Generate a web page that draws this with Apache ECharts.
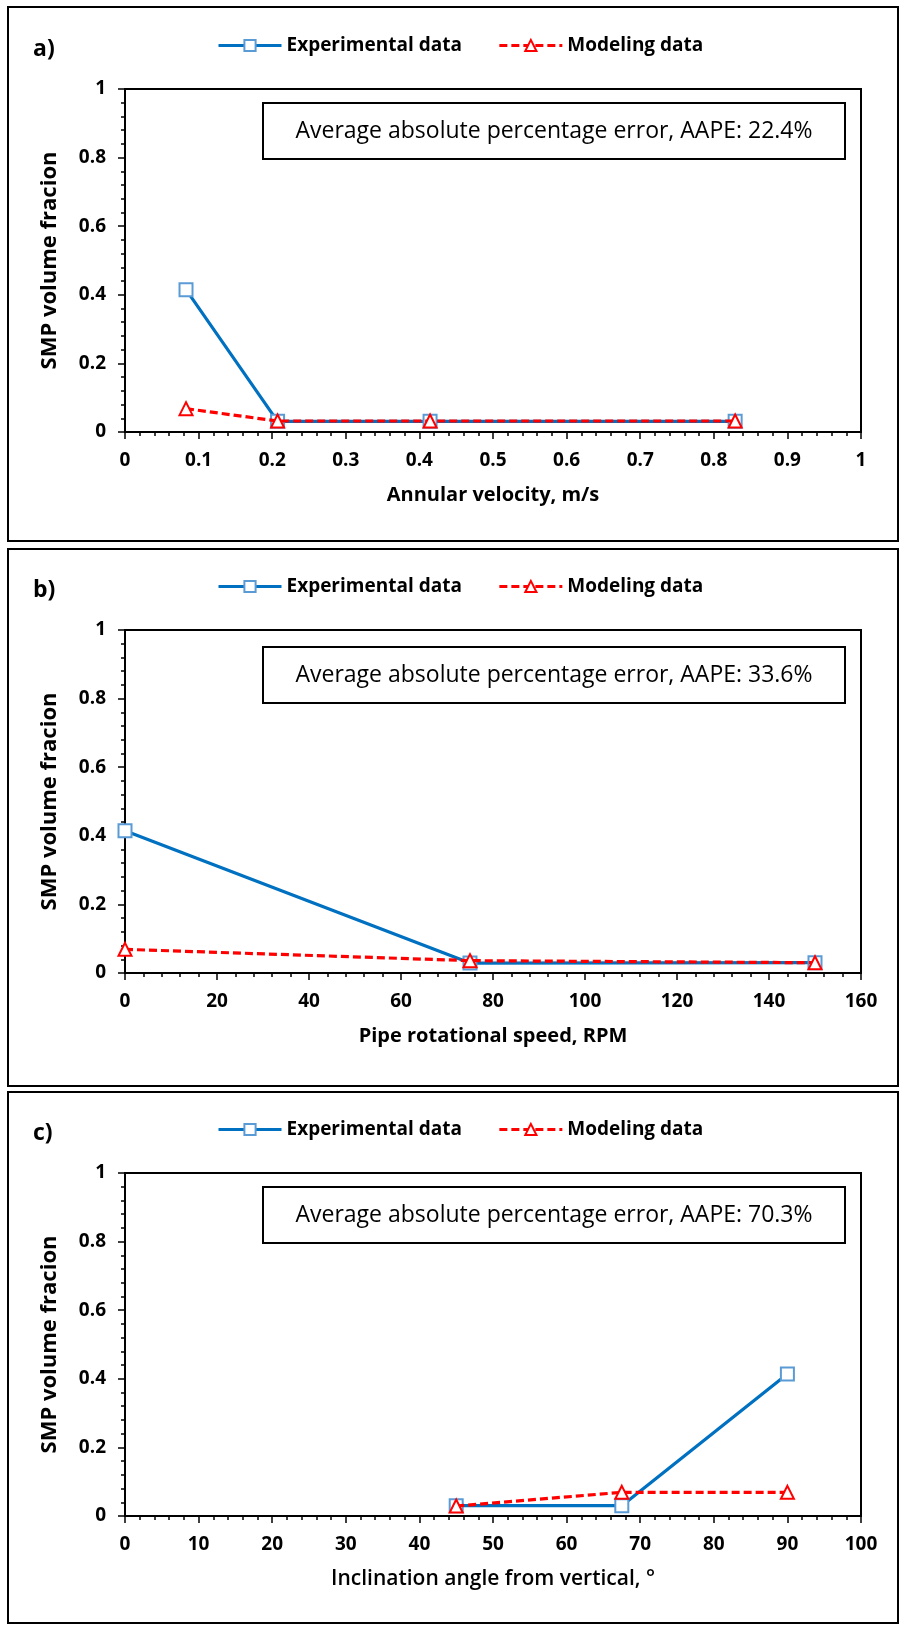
<!DOCTYPE html>
<html>
<head>
<meta charset="utf-8">
<script src="https://cdn.jsdelivr.net/npm/echarts@6/dist/echarts.min.js"></script>
<style>
  html, body { margin: 0; padding: 0; background: #ffffff; }
  #chart { width: 904px; height: 1625px; }
</style>
</head>
<body>
<div id="chart"></div>
<script>
// a) effect of annular velocity
const velocity = [0.0829, 0.2073, 0.4145, 0.829];
const velocityExp = [0.415, 0.031, 0.031, 0.031];
const velocityModel = [0.068, 0.032, 0.032, 0.032];

// b) effect of pipe rotation
const rpm = [0, 75, 150];
const rpmExp = [0.415, 0.029, 0.030];
const rpmModel = [0.069, 0.036, 0.030];

// c) effect of inclination
const angle = [45, 67.5, 90];
const angleExp = [0.030, 0.030, 0.414];
const angleModel = [0.029, 0.069, 0.069];

const panelTags = ['a)', 'b)', 'c)'];
const aapeLabels = [
  'Average absolute percentage error, AAPE: 22.4%',
  'Average absolute percentage error, AAPE: 33.6%',
  'Average absolute percentage error, AAPE: 70.3%'
];
const xTitles = ['Annular velocity, m/s', 'Pipe rotational speed, RPM', 'Inclination angle from vertical, \u00B0'];
const xMax = [1, 160, 100];
const xStep = [0.1, 20, 10];
const yTitle = 'SMP volume fracion';
const seriesNames = ['Experimental data', 'Modeling data'];

const panels = [
  { x: velocity, exp: velocityExp, model: velocityModel },
  { x: rpm, exp: rpmExp, model: rpmModel },
  { x: angle, exp: angleExp, model: angleModel }
];

// layout
const gridTops = [89, 630, 1173];
const gridHeight = 343;
const boxes = [[7, 541], [549, 1086], [1092, 1623]];
const font = 'Open Sans';

const grid = gridTops.map(top => ({
  left: 125, right: 43, top: top, height: gridHeight,
  show: true, borderColor: '#000', borderWidth: 2, backgroundColor: 'transparent'
}));

const tickLine = { color: '#000', width: 1.5 };

const xAxis = panels.map((p, i) => ({
  type: 'value', gridIndex: i, min: 0, max: xMax[i], interval: xStep[i],
  name: xTitles[i], nameLocation: 'middle', nameGap: 53,
  nameTextStyle: {
    fontFamily: font, fontWeight: i === 2 ? 600 : 'bold',
    fontSize: i === 2 ? 21 : 20, color: '#000'
  },
  axisLine: { show: true, onZero: false, lineStyle: { color: '#000', width: 2 } },
  axisTick: { show: true, inside: false, length: 7, lineStyle: tickLine },
  minorTick: { show: true, splitNumber: 5, length: 4, lineStyle: tickLine },
  splitLine: { show: false },
  axisLabel: { margin: 19, color: '#000', fontFamily: font, fontWeight: 'bold', fontSize: 19, showMaxLabel: true, showMinLabel: true }
}));

const yAxis = panels.map((p, i) => ({
  type: 'value', gridIndex: i, min: 0, max: 1, interval: 0.2,
  name: yTitle, nameLocation: 'middle', nameGap: 64, nameRotate: 90,
  nameTextStyle: { fontFamily: font, fontWeight: 'bold', fontSize: 22, color: '#000' },
  axisLine: { show: true, onZero: false, lineStyle: { color: '#000', width: 2 } },
  axisTick: { show: true, inside: false, length: 7, lineStyle: tickLine },
  minorTick: { show: true, splitNumber: 5, length: 4, lineStyle: tickLine },
  splitLine: { show: false },
  axisLabel: { margin: 19, color: '#000', fontFamily: font, fontWeight: 'bold', fontSize: 19 }
}));

const legend = gridTops.map(top => ({
  left: 212, top: top - 58, itemWidth: 63, itemHeight: 14, itemGap: 36,
  data: seriesNames,
  lineStyle: { width: 3 },
  textStyle: { fontFamily: font, fontWeight: 'bold', fontSize: 19, color: '#000' }
}));

const series = [];
panels.forEach((p, i) => {
  series.push({
    type: 'line', name: seriesNames[0], xAxisIndex: i, yAxisIndex: i,
    data: p.x.map((v, k) => [v, p.exp[k]]),
    symbol: 'rect', symbolSize: 13, showAllSymbol: true,
    lineStyle: { color: '#0070C0', width: 3.2 },
    itemStyle: { color: '#ffffff', borderColor: '#5B9BD5', borderWidth: 2 },
    z: 3
  });
  series.push({
    type: 'line', name: seriesNames[1], xAxisIndex: i, yAxisIndex: i,
    data: p.x.map((v, k) => [v, p.model[k]]),
    symbol: 'triangle', symbolSize: 13, showAllSymbol: true,
    lineStyle: { color: '#FF0000', width: 3.2, type: [8, 4] },
    itemStyle: { color: '#ffffff', borderColor: '#FF0000', borderWidth: 2 },
    z: 4
  });
});

const aapeTop = [103, 647, 1187];
const graphic = [];
boxes.forEach(([y0, y1], i) => {
  graphic.push({
    type: 'rect', silent: true, z: 0,
    shape: { x: 8, y: y0, width: 890, height: y1 - y0 },
    style: { fill: 'none', stroke: '#000', lineWidth: 2 }
  });
  graphic.push({
    type: 'text', silent: true, x: 33, y: gridTops[i] - 40,
    style: { text: panelTags[i], font: 'bold 23px "Open Sans"', fill: '#000', verticalAlign: 'middle' }
  });
  graphic.push({
    type: 'rect', silent: true, z: 10,
    shape: { x: 263, y: aapeTop[i], width: 582, height: 56 },
    style: { fill: '#fff', stroke: '#000', lineWidth: 2 }
  });
  graphic.push({
    type: 'text', silent: true, z: 11, x: 263 + 291, y: aapeTop[i] + 28,
    style: { text: aapeLabels[i], font: '23px "Open Sans"', fill: '#000', align: 'center', verticalAlign: 'middle' }
  });
});

const chart = echarts.init(document.getElementById('chart'), null, { renderer: 'canvas' });
chart.setOption({
  animation: false,
  backgroundColor: '#ffffff',
  grid, xAxis, yAxis, legend, series, graphic
});
</script>
</body>
</html>
